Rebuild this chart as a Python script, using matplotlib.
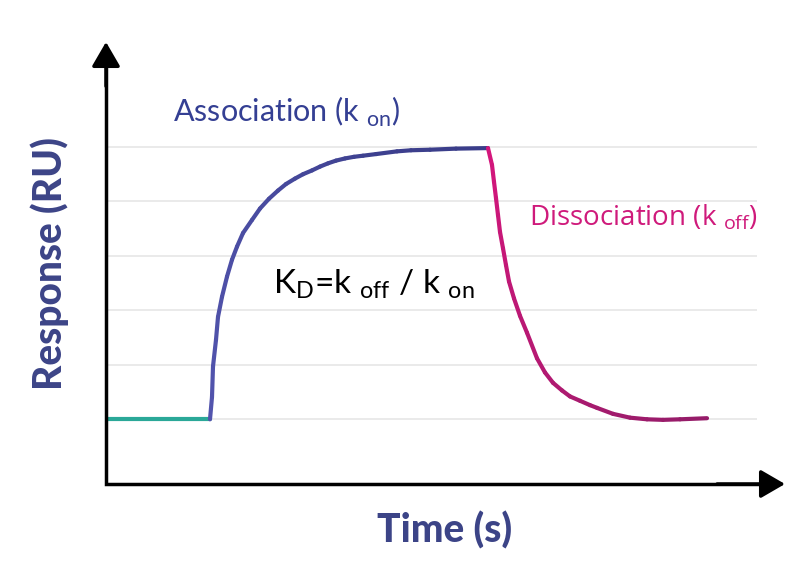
import numpy as np
import matplotlib
matplotlib.use('Agg')
import matplotlib.pyplot as plt
from matplotlib.collections import LineCollection
from matplotlib.colors import to_rgb

plt.rcParams['mathtext.fontset'] = 'custom'
plt.rcParams['mathtext.rm'] = 'Lato'
plt.rcParams['mathtext.sf'] = 'Open Sans'

# sensorgram (time in s, response in RU)
base_t = [0, 104]
base_r = [100, 100]
assoc_t = [104, 106, 107, 110, 112, 116, 121, 126, 131, 137, 146, 154, 163, 172, 180, 189,
           197, 206, 214, 222, 230, 239, 248, 257, 270, 291, 305, 324, 350, 382]
assoc_r = [100, 141, 197, 246, 288, 325, 362, 393, 417, 442, 466, 487, 505, 520, 532, 542,
           550, 557, 564, 570, 575, 579, 582, 584, 587, 592, 594, 595, 597, 598]
dissoc_t = [382, 386, 388, 390, 392, 394, 397, 400, 403, 408, 414, 421, 431, 439, 447, 456,
            464, 474, 484, 491, 507, 524, 541, 557, 574, 601]
dissoc_r = [598, 567, 536, 506, 475, 444, 414, 383, 353, 322, 290, 259, 212, 186, 167, 153,
            142, 134, 126, 121, 110, 103, 100, 99, 100, 102]
grid_r = [100, 200, 300, 400, 500, 600]


def gradient_line(ax, t, r, c0, c1, lw=3.0):
    pts = np.column_stack([t, r])
    segs = np.stack([pts[:-1], pts[1:]], axis=1)
    a, b = np.array(to_rgb(c0)), np.array(to_rgb(c1))
    f = np.linspace(0, 1, len(segs))[:, None]
    lc = LineCollection(segs, colors=a * (1 - f) + b * f, linewidths=lw,
                        capstyle='round', joinstyle='round', zorder=3)
    ax.add_collection(lc)


fig = plt.figure(figsize=(8, 5.66), dpi=100)
ax = fig.add_axes([106/800, 82/566, 679/800, 442/566])
ax.set_xlim(0, 679)
ax.set_ylim(-18.8, 792.8)
ax.axis('off')

ax.hlines(grid_r, 0, 651, color='#e6e6e6', lw=1.2, zorder=1)

gradient_line(ax, base_t, base_r, '#2aa898', '#1f7060')
gradient_line(ax, assoc_t, assoc_r, '#5254ad', '#3a3d8a')
gradient_line(ax, dissoc_t, dissoc_r, '#d4167c', '#961c69')

# axes with arrow heads
ax.plot([0, 0, 0.97], [0.97, 0, 0], transform=ax.transAxes, color='black',
        lw=2.5, solid_joinstyle='miter', solid_capstyle='projecting', clip_on=False, zorder=4)
style = '-|>,head_length=1.0,head_width=0.58'
ax.annotate('', xy=(0, 1), xytext=(0, 0.9), xycoords='axes fraction',
            arrowprops=dict(arrowstyle=style, color='black', lw=2.5, mutation_scale=15,
                            shrinkA=0, shrinkB=0))
ax.annotate('', xy=(1, 0), xytext=(0.9, 0), xycoords='axes fraction',
            arrowprops=dict(arrowstyle=style, color='black', lw=2.5, mutation_scale=15,
                            shrinkA=0, shrinkB=0))

ax.text(67, 646, r'Association (k $_{\mathrm{on}}$)', color='#343f93', fontsize=22,
        family='Lato', va='baseline')
ax.text(423, 457, r'Dissociation (k $_{\mathsf{off}}$)', color='#cf1a7b', fontsize=20,
        family='Open Sans', va='baseline')
ax.text(167, 332, r'K$_{\mathrm{D}}$=k $_{\mathrm{off}}$ / k $_{\mathrm{on}}$', color='black',
        fontsize=24, family='Lato', va='baseline')

fig.text(50/800, 1 - 264/566, 'Response (RU)', rotation=90, ha='center', va='center',
         color='#3c4487', fontsize=28, family='Lato', weight='black')
fig.text(445/800, 1 - 530/566, 'Time (s)', ha='center', va='center',
         color='#3c4487', fontsize=28, family='Lato', weight='black')

fig.savefig('out.png', dpi=100)
